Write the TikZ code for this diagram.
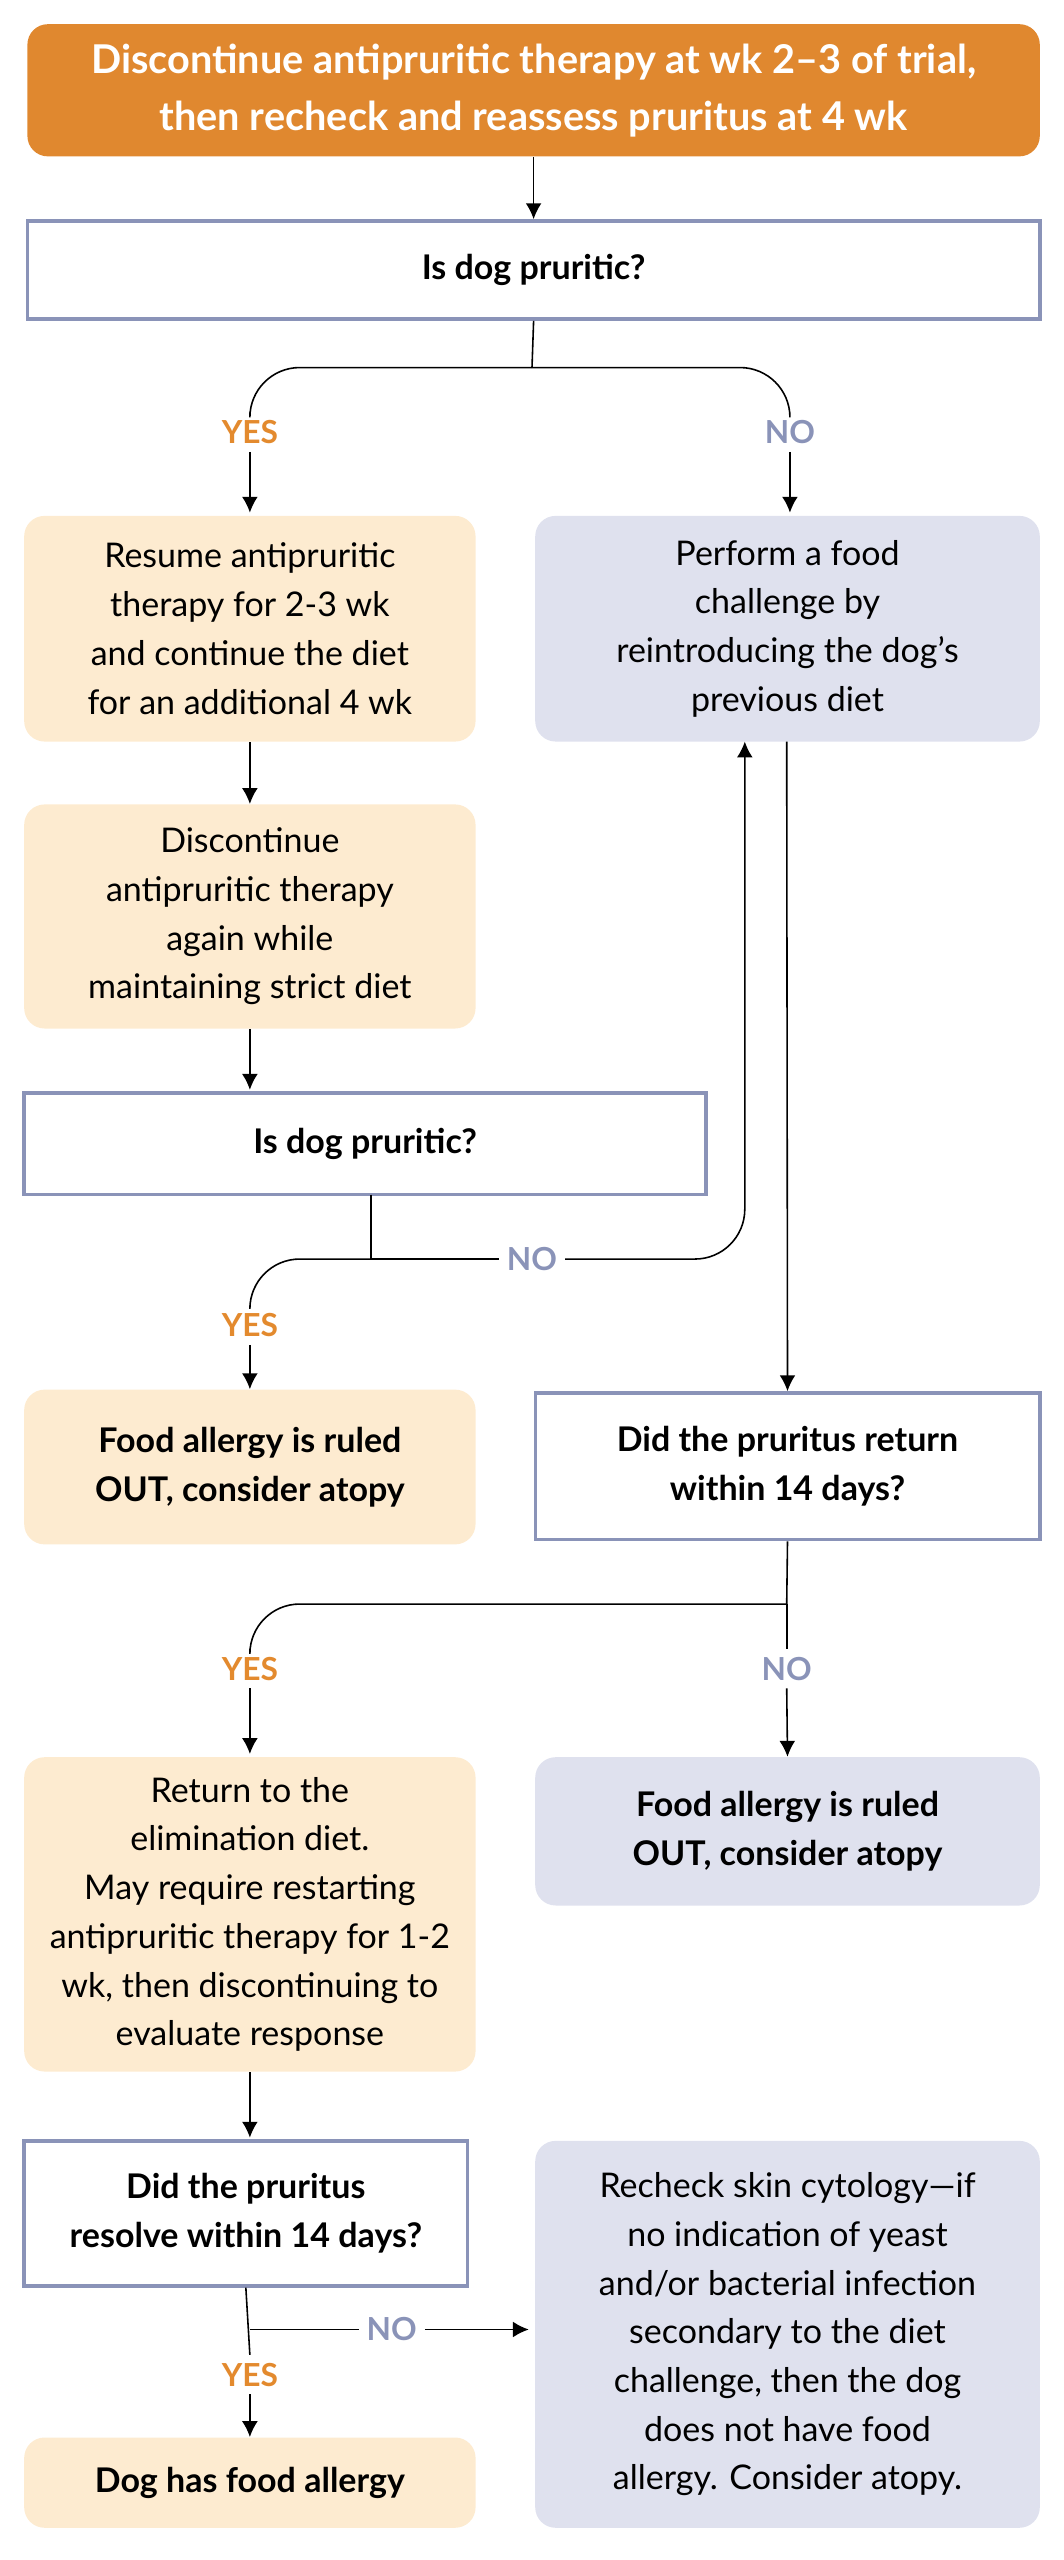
\documentclass[tikz,border=0pt]{standalone}
\usepackage{fontspec}
\setmainfont{Lato}
\usetikzlibrary{arrows.meta}
\begin{document}
\begin{tikzpicture}[x=0.025cm,y=-0.025cm,
  every node/.style={font=\fontsize{15}{21.5}\selectfont},
  box/.style={rounded corners=9pt,align=center,inner sep=0pt},
  ybox/.style={box,fill=yfill},
  bbox/.style={box,fill=bfill},
  qbox/.style={draw=qline,line width=1.5pt,fill=white,align=center,font=\fontsize{15}{21.5}\selectfont\bfseries},
  yes/.style={text=yescol,font=\fontsize{14}{16}\selectfont\bfseries},
  no/.style={text=qline,font=\fontsize{14}{16}\selectfont\bfseries},
  arr/.style={-{Latex[length=7pt,width=7pt]},line width=0.7pt},
  ln/.style={line width=0.7pt},
]
\definecolor{orange}{HTML}{E0882F}
\definecolor{yescol}{HTML}{E38A2E}
\definecolor{qline}{HTML}{8A93B8}
\definecolor{yfill}{HTML}{FDEBD0}
\definecolor{bfill}{HTML}{DFE1EE}
\useasboundingbox (0,0) rectangle (660,1588);
\newcommand{\bx}[5]{\node[#1,minimum width={(#4-#2)*0.025cm},minimum height={(#5-#3)*0.025cm}] at ({(#2+#4)/2},{(#3+#5)/2})}
% nodes
\bx{box,fill=orange,text=white,font=\fontsize{17.5}{25}\selectfont\bfseries}{17}{15}{645}{97} (top) {Discontinue antipruritic therapy at wk 2--3 of trial,\\then recheck and reassess pruritus at 4 wk};
\bx{qbox}{17}{137}{645}{198} (q1) {Is dog pruritic?};
\node[yes] (y1) at (155,268) {YES};
\node[no] (n1) at (490,268) {NO};
\bx{ybox}{15}{320}{295}{460} (a) {Resume antipruritic\\therapy for 2-3 wk\\and continue the diet\\for an additional 4 wk};
\bx{bbox}{332}{320}{645}{460} (b) {Perform a food\\challenge by\\reintroducing the dog’s\\previous diet};
\bx{ybox}{15}{499}{295}{638} (c) {Discontinue\\antipruritic therapy\\again while\\maintaining strict diet};
\bx{qbox}{15}{678}{438}{741} (q2) {Is dog pruritic?};
\node[no] (n2) at (330,781) {NO};
\node[yes] (y2) at (155,822) {YES};
\bx{ybox,font=\fontsize{15}{21.5}\selectfont\bfseries}{15}{862}{295}{958} (d) {Food allergy is ruled\\OUT, consider atopy};
\bx{qbox}{332}{864}{645}{955} (q3) {Did the pruritus return\\within 14 days?};
\node[yes] (y3) at (155,1035) {YES};
\node[no] (n3) at (488,1035) {NO};
\bx{ybox}{15}{1090}{295}{1285} (e) {Return to the\\elimination diet.\\May require restarting\\antipruritic therapy for 1-2\\wk, then discontinuing to\\evaluate response};
\bx{bbox,font=\fontsize{15}{21.5}\selectfont\bfseries}{332}{1090}{645}{1182} (f) {Food allergy is ruled\\OUT, consider atopy};
\bx{qbox}{15}{1328}{290}{1418} (q4) {Did the pruritus\\resolve within 14 days?};
\node[no] (n4) at (243,1445) {NO};
\node[yes] (y4) at (155,1473) {YES};
\bx{ybox,font=\fontsize{15}{21.5}\selectfont\bfseries}{15}{1512}{295}{1568} (g) {Dog has food allergy};
\bx{bbox}{332}{1328}{645}{1568} (h) {Recheck skin cytology—if\\no indication of yeast\\and/or bacterial infection\\secondary to the diet\\challenge, then the dog\\does not have food\\allergy. Consider atopy.};
% coordinates
\coordinate (j1) at (330,228);
\coordinate (j2) at (230,781);
\coordinate (j3) at (488,995);
\coordinate (j4) at (155,1445);
% connectors
\draw[arr] (top.south) -- (q1.north);
\draw[ln] (q1.south) -- (j1);
\draw[ln,rounded corners=22] (j1) -| (y1.north);
\draw[ln,rounded corners=22] (j1) -| (n1.north);
\draw[arr] (y1.south) -- (155,318);
\draw[arr] (n1.south) -- (490,318);
\draw[arr] (a.south) -- (c.north);
\draw[arr] (c.south) -- (155,676);
\draw[ln] (230,741) -- (j2);
\draw[ln,rounded corners=22] (j2) -| (y2.north);
\draw[ln] (j2) -- (n2.west);
\draw[arr,rounded corners=22] (n2.east) -| (462,460);
\draw[arr] (488,460) -- (q3.north);
\draw[arr] (y2.south) -- (d.north);
\draw[ln] (q3.south) -- (j3);
\draw[ln,rounded corners=22] (j3) -| (y3.north);
\draw[ln] (j3) -- (n3.north);
\draw[arr] (y3.south) -- (155,1088);
\draw[arr] (n3.south) -- (f.north);
\draw[arr] (e.south) -- (155,1326);
\draw[ln] (q4.south) -- (y4.north);
\draw[ln] (j4) -- (n4.west);
\draw[arr] (n4.east) -- (328,1445);
\draw[arr] (y4.south) -- (g.north);
\end{tikzpicture}
\end{document}
